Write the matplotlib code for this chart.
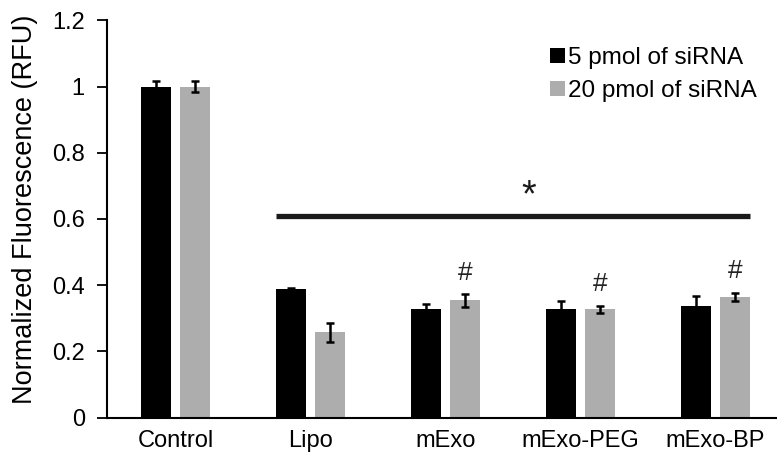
import matplotlib.pyplot as plt
import numpy as np

plt.rcParams['font.family'] = ['Liberation Sans', 'DejaVu Sans']

groups = ['Control', 'Lipo', 'mExo', 'mExo-PEG', 'mExo-BP']
series_names = ['5 pmol of siRNA', '20 pmol of siRNA']
low_dose = [1.0, 0.387, 0.329, 0.327, 0.336]
low_err = [0.017, 0.004, 0.015, 0.024, 0.031]
high_dose = [1.0, 0.257, 0.354, 0.327, 0.364]
high_err = [0.017, 0.029, 0.019, 0.011, 0.013]
hash_groups = ['mExo', 'mExo-PEG', 'mExo-BP']
sig_level = 0.61

x = np.arange(len(groups))
width = 0.222
offset = 0.145

fig = plt.figure(figsize=(7.77, 4.66), dpi=100)
ax = fig.add_axes([107 / 777, 1 - 417.5 / 466, 670 / 777, 397 / 466])

err_style = dict(ecolor='black', elinewidth=1.8, capsize=3, capthick=1.8)
ax.bar(x - offset, low_dose, width, color='black', label=series_names[0],
       yerr=low_err, error_kw=err_style)
ax.bar(x + offset, high_dose, width, color='#adadad', label=series_names[1],
       yerr=high_err, error_kw=err_style)

# '#' marks over the 20 pmol bars
for g in hash_groups:
    i = groups.index(g)
    ax.text(x[i] + offset, high_dose[i] + high_err[i] + 0.065, '#',
            ha='center', va='center', fontsize=19, color='#222222')

# significance bar spanning Lipo .. mExo-BP
left_edge = x[1] - offset - width / 2
right_edge = x[-1] + offset + width / 2
ax.plot([left_edge, right_edge], [sig_level, sig_level], color='#1a1a1a',
        lw=3.8, solid_capstyle='butt')
ax.text((left_edge + right_edge) / 2 + 0.12, sig_level + 0.058, '*',
        ha='center', va='center', fontsize=27, color='#1a1a1a')

ax.set_xlim(-0.507, 4.456)
ax.set_ylim(0, 1.2)
ax.set_yticks(np.arange(0, 1.21, 0.2))
ax.set_yticklabels(['0', '0.2', '0.4', '0.6', '0.8', '1', '1.2'])
ax.set_xticks(x)
ax.set_xticklabels(groups)
ax.tick_params(axis='y', direction='out', length=7, width=1.3, labelsize=17, pad=9)
ax.tick_params(axis='x', length=0, labelsize=17, pad=9)
ax.set_ylabel('Normalized Fluorescence (RFU)', fontsize=19.5, va='center')
ax.yaxis.set_label_coords(-0.123, 0.525)

for side in ['top', 'right']:
    ax.spines[side].set_visible(False)
for side in ['left', 'bottom']:
    ax.spines[side].set_linewidth(1.5)

fig.legend(loc='upper left', bbox_to_anchor=(550 / 777, 1 - 47 / 466),
           bbox_transform=fig.transFigure, frameon=False, fontsize=17.5,
           handlelength=0.6, handleheight=0.6, handletextpad=0.15,
           labelspacing=0.45, borderpad=0, borderaxespad=0)

fig.savefig('out.png', dpi=100)
